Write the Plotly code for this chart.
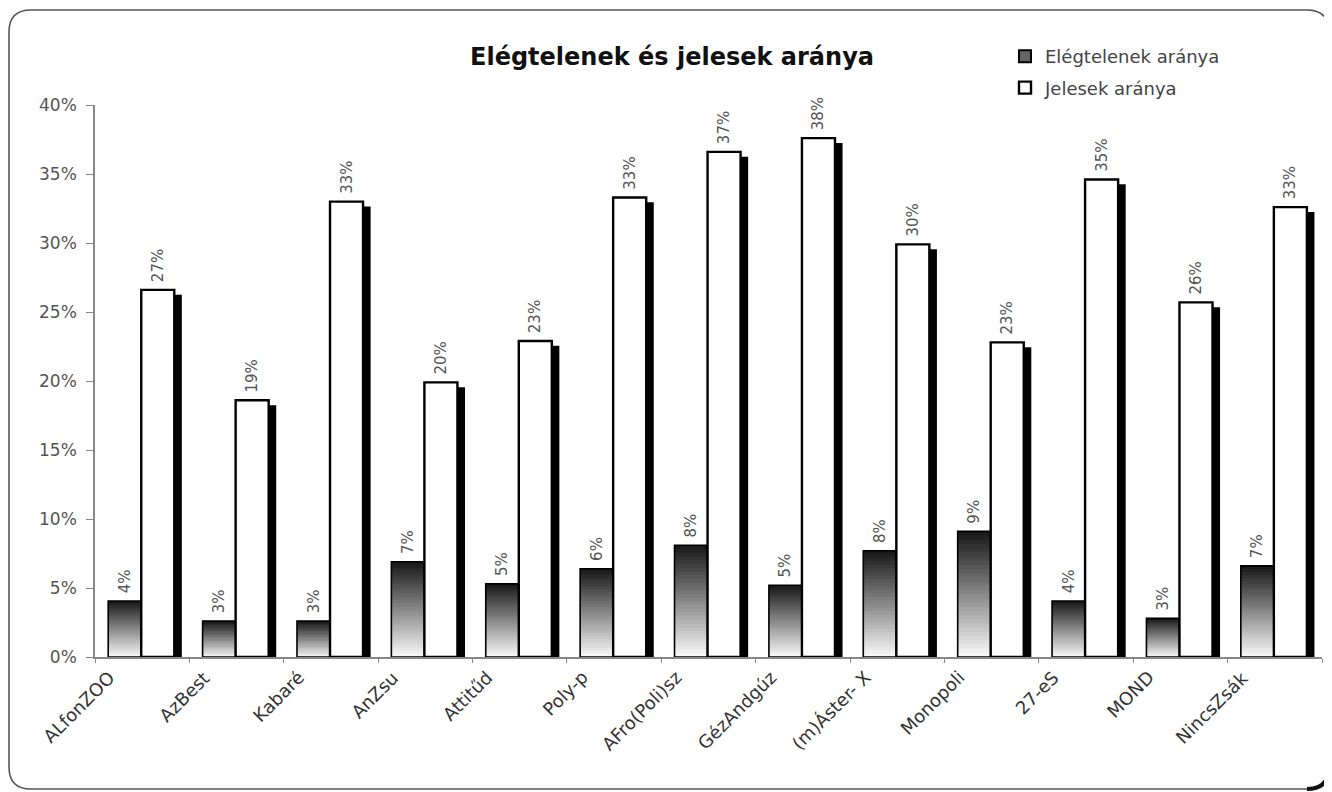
import plotly.graph_objects as go

categories = ["ALfonZOO", "AzBest", "Kabaré", "AnZsu", "Attitűd", "Poly-p", "AFro(Poli)sz",
              "GézAndgúz", "(m)Áster- X", "Monopoli", "27-eS", "MOND", "NincsZsák"]
elegtelen_pct = [4.06, 2.6, 2.6, 6.9, 5.3, 6.4, 8.1, 5.2, 7.7, 9.1, 4.06, 2.8, 6.6]
jeles_pct = [26.6, 18.6, 33.0, 19.9, 22.9, 33.3, 36.6, 37.6, 29.9, 22.8, 34.6, 25.7, 32.6]
series_names = ["Elégtelenek aránya", "Jelesek aránya"]
title_text = "Elégtelenek és jelesek aránya"

elegtelen = [v / 100 for v in elegtelen_pct]
jeles = [v / 100 for v in jeles_pct]

FONT = "DejaVu Sans, Verdana, sans-serif"
W, H = 1332, 792
PAGE = 8  # default body margin of the html page
ML, MR, MT, MB = 87, 18, 97, 143

BW = 0.35
OFF_DARK = -0.36
OFF_WHITE = -0.01
SHADOW_DX = 0.08
SHADOW_DY = 0.0035

fig = go.Figure()

# gradient segments for the dark bars
N = 30
for i in range(N):
    t = (i + 0.5) / N
    g = int(round(250 - t * (250 - 22)))
    col = f"rgb({g},{g},{g})"
    seg_h = [v / N for v in elegtelen]
    ys = [h * 1.6 if i < N - 1 else h for h in seg_h]
    fig.add_trace(go.Bar(
        x=categories, y=ys, base=[h * i for h in seg_h],
        offset=OFF_DARK, width=BW,
        marker=dict(color=col, line=dict(width=0)),
        showlegend=False, hoverinfo="skip",
    ))

# outline + labels for dark bars
fig.add_trace(go.Bar(
    x=categories, y=elegtelen, offset=OFF_DARK, width=BW,
    marker=dict(color="rgba(0,0,0,0)", line=dict(color="black", width=1.6)),
    texttemplate="\u00a0%{y:.0%}", textposition="outside", textangle=-90,
    constraintext="none", cliponaxis=False,
    textfont=dict(family=FONT, size=15, color="#555"),
    showlegend=False, name=series_names[0],
))

# shadow for white bars
fig.add_trace(go.Bar(
    x=categories, y=[v - SHADOW_DY for v in jeles],
    offset=OFF_WHITE + SHADOW_DX, width=BW,
    marker=dict(color="black", line=dict(width=0)),
    showlegend=False, hoverinfo="skip",
))

# white bars
fig.add_trace(go.Bar(
    x=categories, y=jeles, offset=OFF_WHITE, width=BW,
    marker=dict(color="white", line=dict(color="black", width=2.4)),
    texttemplate="\u00a0%{y:.0%}", textposition="outside", textangle=-90,
    constraintext="none", cliponaxis=False,
    textfont=dict(family=FONT, size=15, color="#555"),
    name=series_names[1], legendgroup="b", legendrank=2,
))

# legend-only entry for dark series
fig.add_trace(go.Bar(
    x=[categories[0]], y=[None], name=series_names[0],
    marker=dict(color="#666", line=dict(color="black", width=2)),
    legendgroup="a", legendrank=1,
))

# x labels as rotated annotations
for c in categories:
    fig.add_annotation(
        x=c, y=0, xref="x", yref="y", text=c, showarrow=False,
        textangle=-45, xanchor="right", yanchor="top",
        xshift=-20, yshift=-7,
        font=dict(family=FONT, size=18, color="#333"),
    )

# rounded border (coordinates in page pixels of the reference)
pw = W - ML - MR
ph = H - MT - MB
def px(x):
    return (x - PAGE - ML) / pw
def py(y):
    return (H - MB - (y - PAGE)) / ph
x0, x1, y0, y1, r = 9, 1329, 10, 789, 22
path = (f"M {px(x0 + r)},{py(y0)} L {px(x1 - r)},{py(y0)} "
        f"Q {px(x1)},{py(y0)} {px(x1)},{py(y0 + r)} "
        f"L {px(x1)},{py(y1 - r)} Q {px(x1)},{py(y1)} {px(x1 - r)},{py(y1)} "
        f"L {px(x0 + r)},{py(y1)} Q {px(x0)},{py(y1)} {px(x0)},{py(y1 - r)} "
        f"L {px(x0)},{py(y0 + r)} Q {px(x0)},{py(y0)} {px(x0 + r)},{py(y0)} Z")
fig.add_shape(type="path", path=path, xref="paper", yref="paper",
              line=dict(color="#555", width=1.6), layer="below")
corner = (f"M {px(x1)},{py(y1 - r)} Q {px(x1)},{py(y1)} {px(x1 - r)},{py(y1)}")
fig.add_shape(type="path", path=corner, xref="paper", yref="paper",
              line=dict(color="#111", width=4), layer="below")

fig.update_layout(
    width=W, height=H,
    margin=dict(l=ML, r=MR, t=MT, b=MB),
    paper_bgcolor="white", plot_bgcolor="white",
    barmode="overlay",
    title=dict(text=f"<b>{title_text}</b>", x=(672 - PAGE) / W, xanchor="center",
               y=1 - (57 - PAGE) / H, yanchor="middle", yref="container", xref="container",
               font=dict(family=FONT, size=24, color="#111")),
    legend=dict(x=px(1005), y=py(38), xanchor="left", yanchor="top",
                traceorder="grouped", tracegroupgap=5,
                font=dict(family=FONT, size=18, color="#444"),
                bgcolor="rgba(0,0,0,0)", itemwidth=30),
    showlegend=True,
    font=dict(family=FONT),
)
fig.update_xaxes(type="category", range=[-0.5, len(categories) - 0.5],
                 showline=True, linecolor="#888", linewidth=1.5,
                 ticks="outside", tickson="boundaries", ticklen=4, tickcolor="#888",
                 showticklabels=False, showgrid=False, zeroline=False)
fig.update_yaxes(range=[0, 0.4], dtick=0.05, tickformat=".0%",
                 showline=True, linecolor="#888", linewidth=1.5,
                 ticks="outside", ticklen=7, tickcolor="#888",
                 ticklabelstandoff=6,
                 tickfont=dict(family=FONT, size=17, color="#555"),
                 showgrid=False, zeroline=False)

fig.write_html("out.html")
